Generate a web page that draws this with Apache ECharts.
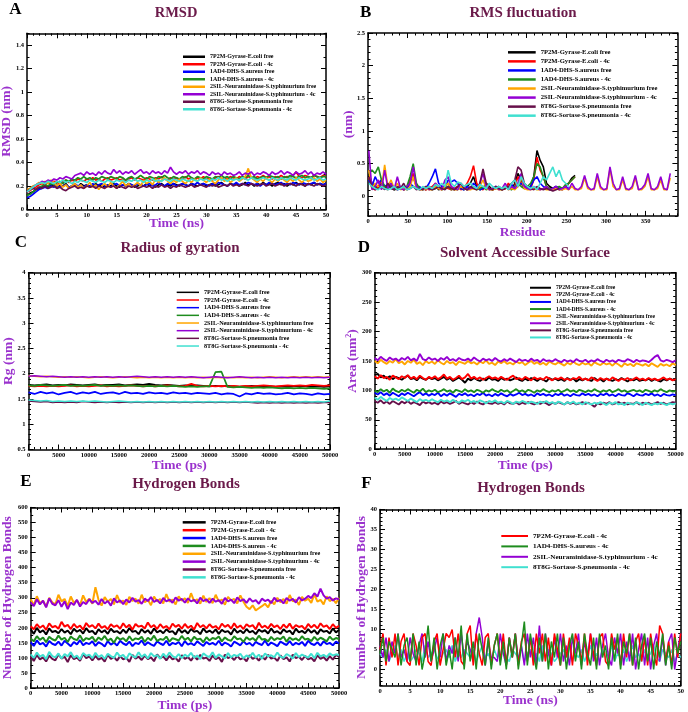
<!DOCTYPE html>
<html><head><meta charset="utf-8">
<script src="https://cdn.jsdelivr.net/npm/echarts@6/dist/echarts.min.js"></script>
<style>html,body{margin:0;padding:0;background:#fff}#c{width:688px;height:712px}</style>
</head><body><div id="c"></div>
<script>
// ---------- series names ----------
const seriesNames = ['7P2M-Gyrase-E.coli free','7P2M-Gyrase-E.coli - 4c','1AD4-DHS-S.aureus free','1AD4-DHS-S.aureus - 4c','2SIL-Neuraminidase-S.typhimurium free','2SIL-Neuraminidase-S.typhimurium - 4c','8T8G-Sortase-S.pneumonia free','8T8G-Sortase-S.pneumonia - 4c'];

// ---------- tick labels ----------
const nsTicks = [0,5,10,15,20,25,30,35,40,45,50];
const psTicks = [0,5000,10000,15000,20000,25000,30000,35000,40000,45000,50000];
const rmsdTicks = [0,0.2,0.4,0.6,0.8,1,1.2,1.4];
const residueTicks = [0,50,100,150,200,250,300,350];
const rmsfTicks = [0,0.5,1,1.5,2,2.5];
const rgTicks = [0.5,1,1.5,2,2.5,3,3.5,4];
const sasaTicks = [0,50,100,150,200,250,300];
const hbTicks = [0,50,100,150,200,250,300,350,400,450,500,550,600];
const hblTicks = [0,5,10,15,20,25,30,35,40];

// ---------- A: RMSD (nm), t = 0..50 ns every 0.5 ns ----------
const rmsdStepNs = 0.5;
const rmsdEcoliFree = [0.12,0.14,0.15,0.17,0.18,0.19,0.2,0.19,0.21,0.2,0.19,0.21,0.2,0.22,0.19,0.2,0.21,0.19,0.22,0.2,0.21,0.19,0.2,0.22,0.2,0.21,0.19,0.21,0.2,0.22,0.2,0.19,0.21,0.2,0.22,0.21,0.19,0.2,0.21,0.2,0.22,0.2,0.21,0.19,0.21,0.22,0.2,0.21,0.2,0.22,0.21,0.2,0.22,0.21,0.2,0.22,0.21,0.2,0.21,0.22,0.2,0.21,0.22,0.2,0.21,0.23,0.21,0.2,0.22,0.21,0.22,0.2,0.21,0.23,0.21,0.22,0.2,0.22,0.21,0.23,0.21,0.22,0.2,0.22,0.23,0.21,0.22,0.2,0.22,0.21,0.23,0.21,0.22,0.2,0.22,0.21,0.23,0.21,0.22,0.21,0.22];
const rmsdEcoli4c = [0.15,0.16,0.18,0.19,0.21,0.22,0.21,0.23,0.22,0.24,0.23,0.22,0.24,0.25,0.23,0.25,0.24,0.26,0.25,0.24,0.26,0.25,0.27,0.25,0.26,0.24,0.26,0.27,0.25,0.26,0.27,0.25,0.26,0.24,0.26,0.27,0.25,0.27,0.26,0.25,0.27,0.26,0.25,0.27,0.26,0.28,0.26,0.25,0.27,0.26,0.27,0.25,0.26,0.28,0.26,0.27,0.25,0.27,0.26,0.28,0.26,0.27,0.25,0.27,0.28,0.26,0.27,0.26,0.28,0.27,0.26,0.28,0.27,0.26,0.28,0.27,0.26,0.28,0.27,0.29,0.27,0.28,0.26,0.28,0.27,0.29,0.27,0.28,0.27,0.29,0.32,0.28,0.27,0.29,0.28,0.27,0.29,0.28,0.27,0.29,0.28];
const rmsdAureusFree = [0.1,0.11,0.13,0.15,0.17,0.18,0.19,0.18,0.2,0.19,0.21,0.19,0.2,0.21,0.19,0.2,0.22,0.2,0.21,0.19,0.21,0.2,0.22,0.2,0.21,0.22,0.2,0.21,0.19,0.21,0.22,0.2,0.21,0.2,0.22,0.21,0.2,0.22,0.21,0.2,0.21,0.22,0.2,0.21,0.23,0.21,0.2,0.22,0.21,0.22,0.2,0.21,0.22,0.21,0.2,0.22,0.21,0.23,0.21,0.22,0.21,0.2,0.22,0.21,0.23,0.22,0.21,0.2,0.22,0.21,0.23,0.21,0.22,0.21,0.23,0.22,0.21,0.22,0.2,0.22,0.21,0.23,0.22,0.21,0.22,0.23,0.21,0.22,0.21,0.23,0.22,0.21,0.23,0.22,0.21,0.22,0.23,0.21,0.22,0.21,0.22];
const rmsdAureus4c = [0.12,0.13,0.15,0.17,0.19,0.2,0.21,0.2,0.22,0.21,0.23,0.24,0.22,0.25,0.24,0.26,0.25,0.27,0.26,0.28,0.26,0.27,0.25,0.27,0.26,0.28,0.27,0.26,0.28,0.27,0.26,0.28,0.27,0.25,0.27,0.28,0.26,0.27,0.29,0.27,0.26,0.28,0.27,0.26,0.28,0.27,0.29,0.27,0.26,0.28,0.27,0.26,0.28,0.27,0.29,0.27,0.26,0.28,0.27,0.26,0.28,0.27,0.26,0.28,0.27,0.29,0.27,0.28,0.26,0.28,0.27,0.26,0.28,0.27,0.29,0.27,0.28,0.26,0.27,0.28,0.27,0.29,0.28,0.27,0.28,0.26,0.28,0.27,0.29,0.28,0.27,0.28,0.29,0.27,0.28,0.27,0.29,0.28,0.27,0.28,0.28];
const rmsdTyphiFree = [0.17,0.18,0.2,0.21,0.23,0.22,0.24,0.22,0.25,0.23,0.2,0.22,0.19,0.21,0.18,0.2,0.22,0.19,0.21,0.18,0.2,0.23,0.19,0.21,0.17,0.2,0.22,0.19,0.23,0.2,0.18,0.21,0.24,0.2,0.22,0.19,0.21,0.23,0.2,0.25,0.22,0.24,0.21,0.26,0.23,0.25,0.27,0.24,0.22,0.25,0.23,0.26,0.24,0.22,0.25,0.23,0.26,0.24,0.27,0.25,0.23,0.26,0.24,0.22,0.25,0.27,0.24,0.26,0.23,0.25,0.27,0.24,0.26,0.28,0.35,0.27,0.25,0.23,0.26,0.24,0.27,0.25,0.23,0.26,0.24,0.27,0.25,0.23,0.26,0.24,0.27,0.25,0.23,0.26,0.24,0.25,0.27,0.24,0.26,0.23,0.25];
const rmsdTyphi4c = [0.15,0.17,0.19,0.21,0.22,0.24,0.23,0.25,0.24,0.26,0.25,0.27,0.26,0.28,0.27,0.26,0.29,0.3,0.31,0.29,0.32,0.3,0.31,0.29,0.32,0.3,0.33,0.31,0.3,0.34,0.31,0.33,0.3,0.32,0.31,0.33,0.3,0.32,0.34,0.31,0.32,0.3,0.33,0.31,0.32,0.3,0.33,0.31,0.36,0.32,0.3,0.32,0.31,0.33,0.3,0.32,0.31,0.33,0.3,0.32,0.31,0.29,0.32,0.3,0.31,0.29,0.32,0.3,0.31,0.29,0.3,0.32,0.29,0.31,0.3,0.32,0.29,0.31,0.3,0.32,0.31,0.29,0.32,0.3,0.31,0.33,0.3,0.32,0.31,0.29,0.32,0.3,0.31,0.33,0.3,0.32,0.29,0.31,0.3,0.32,0.3];
const rmsdPneuFree = [0.16,0.17,0.18,0.17,0.19,0.18,0.2,0.18,0.19,0.2,0.18,0.19,0.17,0.16,0.18,0.19,0.2,0.18,0.19,0.18,0.2,0.19,0.2,0.18,0.2,0.19,0.18,0.2,0.19,0.2,0.18,0.2,0.19,0.18,0.2,0.19,0.2,0.18,0.19,0.2,0.19,0.2,0.18,0.2,0.19,0.21,0.19,0.2,0.18,0.2,0.19,0.21,0.2,0.19,0.2,0.21,0.19,0.2,0.21,0.2,0.19,0.21,0.2,0.21,0.19,0.2,0.21,0.2,0.22,0.2,0.21,0.2,0.22,0.21,0.2,0.22,0.21,0.2,0.21,0.22,0.2,0.21,0.22,0.2,0.21,0.22,0.2,0.21,0.22,0.21,0.2,0.22,0.21,0.2,0.22,0.21,0.2,0.22,0.21,0.2,0.21];
const rmsdPneu4c = [0.15,0.17,0.19,0.21,0.22,0.23,0.22,0.24,0.23,0.22,0.24,0.23,0.25,0.23,0.24,0.22,0.24,0.23,0.25,0.24,0.23,0.25,0.24,0.23,0.25,0.24,0.23,0.25,0.24,0.23,0.25,0.24,0.25,0.23,0.25,0.24,0.26,0.24,0.25,0.23,0.25,0.24,0.26,0.24,0.25,0.24,0.26,0.25,0.24,0.26,0.25,0.24,0.26,0.25,0.24,0.26,0.25,0.24,0.26,0.25,0.26,0.24,0.26,0.25,0.27,0.25,0.26,0.24,0.26,0.25,0.26,0.25,0.27,0.26,0.25,0.27,0.26,0.25,0.26,0.27,0.26,0.25,0.27,0.26,0.25,0.27,0.26,0.25,0.27,0.26,0.25,0.27,0.26,0.25,0.26,0.27,0.25,0.26,0.27,0.25,0.26];

// ---------- B: RMSF (nm), residue 1, 5, 9, ... ----------
const rmsfFirstResidue = 1, rmsfStepResidue = 4;
const rmsfEcoliFree = [0.35,0.2,0.15,0.12,0.2,0.15,0.12,0.18,0.1,0.12,0.15,0.1,0.12,0.2,0.3,0.15,0.1,0.12,0.1,0.15,0.12,0.18,0.1,0.12,0.15,0.2,0.12,0.1,0.15,0.12,0.1,0.15,0.2,0.3,0.15,0.1,0.12,0.2,0.15,0.1,0.12,0.15,0.1,0.12,0.15,0.1,0.2,0.35,0.25,0.15,0.12,0.15,0.3,0.7,0.55,0.45,0.2,0.15,0.12,0.15,0.1,0.12,0.15,0.2,0.28,0.32];
const rmsfEcoli4c = [0.3,0.12,0.1,0.15,0.25,0.12,0.1,0.2,0.12,0.1,0.15,0.1,0.12,0.25,0.35,0.15,0.1,0.12,0.1,0.12,0.15,0.2,0.12,0.1,0.15,0.12,0.1,0.12,0.15,0.1,0.12,0.2,0.3,0.47,0.2,0.12,0.1,0.15,0.12,0.1,0.12,0.15,0.1,0.12,0.2,0.12,0.15,0.3,0.2,0.12,0.15,0.12,0.25,0.6,0.4,0.3,0.15,0.12,0.1,0.15,0.12,0.1,0.15,0.2,0.25,0.3];
const rmsfAureusFree = [0.25,0.15,0.3,0.2,0.25,0.15,0.18,0.12,0.15,0.1,0.12,0.15,0.12,0.2,0.15,0.12,0.15,0.1,0.12,0.2,0.3,0.42,0.2,0.15,0.12,0.25,0.22,0.25,0.2,0.12,0.1,0.15,0.12,0.2,0.15,0.1,0.12,0.15,0.1,0.12,0.15,0.12,0.1,0.15,0.12,0.18,0.12,0.15,0.2,0.15,0.12,0.15,0.25,0.3,0.2,0.15,0.12,0.1,0.12,0.15,0.12,0.1,0.15,0.12];
const rmsfAureus4c = [0.35,0.4,0.35,0.45,0.25,0.15,0.12,0.2,0.1,0.12,0.15,0.1,0.15,0.3,0.5,0.2,0.12,0.1,0.15,0.12,0.1,0.12,0.15,0.1,0.12,0.15,0.1,0.12,0.1,0.15,0.12,0.1,0.12,0.15,0.1,0.12,0.15,0.1,0.12,0.1,0.15,0.12,0.1,0.15,0.12,0.1,0.15,0.2,0.15,0.12,0.15,0.2,0.3,0.5,0.45,0.3,0.15,0.12,0.1,0.12,0.15,0.12,0.18,0.2,0.25,0.3];
const rmsfTyphiFree = [0.4,0.12,0.2,0.15,0.12,0.48,0.15,0.25,0.12,0.2,0.1,0.12,0.1,0.15,0.3,0.12,0.1,0.1,0.12,0.1,0.1,0.15,0.12,0.1,0.15,0.2,0.12,0.1,0.1,0.15,0.12,0.1,0.1,0.12,0.1,0.15,0.25,0.12,0.1,0.1,0.12,0.1,0.1,0.15,0.1,0.12,0.1,0.15,0.3,0.12,0.1,0.1,0.12,0.1,0.1,0.12,0.1,0.1,0.1,0.12,0.1,0.1,0.12,0.1,0.15,0.1,0.1,0.12,0.28,0.12,0.1,0.1,0.3,0.12,0.1,0.1,0.42,0.15,0.1,0.1,0.25,0.1,0.1,0.12,0.28,0.1,0.1,0.15,0.3,0.1,0.1,0.12,0.25,0.1,0.1,0.28];
const rmsfTyphi4c = [0.7,0.1,0.15,0.25,0.1,0.4,0.12,0.2,0.1,0.3,0.12,0.1,0.15,0.2,0.45,0.15,0.1,0.12,0.15,0.1,0.12,0.2,0.15,0.1,0.25,0.3,0.15,0.12,0.1,0.2,0.15,0.1,0.12,0.15,0.1,0.2,0.35,0.15,0.1,0.12,0.15,0.1,0.12,0.2,0.1,0.15,0.12,0.2,0.35,0.15,0.12,0.1,0.15,0.12,0.1,0.12,0.15,0.1,0.12,0.15,0.1,0.12,0.15,0.1,0.2,0.12,0.1,0.15,0.32,0.15,0.1,0.12,0.35,0.15,0.1,0.12,0.45,0.2,0.1,0.12,0.3,0.12,0.1,0.15,0.32,0.1,0.12,0.18,0.35,0.12,0.1,0.15,0.3,0.12,0.1,0.35];
const rmsfPneuFree = [0.3,0.15,0.1,0.12,0.15,0.1,0.2,0.12,0.1,0.15,0.12,0.2,0.1,0.12,0.15,0.1,0.12,0.1,0.15,0.12,0.1,0.12,0.15,0.12,0.1,0.15,0.12,0.1,0.15,0.2,0.12,0.1,0.15,0.12,0.1,0.2,0.42,0.2,0.12,0.1,0.15,0.12,0.1,0.12,0.15,0.2,0.25,0.45,0.4,0.2,0.15,0.12,0.1,0.15,0.12,0.1,0.12,0.1,0.08,0.1,0.12];
const rmsfPneu4c = [0.2,0.15,0.12,0.1,0.15,0.12,0.1,0.12,0.15,0.1,0.12,0.15,0.1,0.12,0.15,0.12,0.1,0.15,0.12,0.15,0.12,0.18,0.15,0.2,0.15,0.4,0.2,0.15,0.22,0.2,0.15,0.18,0.2,0.15,0.12,0.18,0.15,0.12,0.2,0.15,0.12,0.15,0.12,0.15,0.1,0.2,0.25,0.15,0.3,0.2,0.15,0.12,0.15,0.1,0.2,0.3,0.25,0.35,0.45,0.3,0.4,0.25,0.2,0.15];

// ---------- C: Radius of gyration (nm), t = 0..50000 ps every 1000 ps ----------
const rgStepPs = 1000;
const rgEcoliFree = [1.78,1.77,1.78,1.79,1.77,1.78,1.77,1.79,1.78,1.77,1.78,1.79,1.77,1.78,1.78,1.79,1.77,1.78,1.79,1.78,1.8,1.78,1.77,1.78,1.77,1.76,1.77,1.76,1.77,1.76,1.75,1.76,1.75,1.76,1.75,1.74,1.75,1.76,1.75,1.74,1.75,1.74,1.75,1.74,1.75,1.76,1.75,1.74,1.75,1.74,1.75];
const rgEcoli4c = [1.76,1.75,1.76,1.75,1.76,1.75,1.76,1.77,1.75,1.76,1.75,1.76,1.77,1.75,1.76,1.75,1.76,1.77,1.76,1.75,1.76,1.75,1.76,1.77,1.76,1.75,1.76,1.8,1.76,1.75,1.76,1.75,1.76,1.75,1.76,1.75,1.76,1.75,1.76,1.77,1.76,1.75,1.76,1.77,1.76,1.77,1.76,1.78,1.77,1.76,1.77];
const rgAureusFree = [1.63,1.6,1.64,1.61,1.63,1.59,1.62,1.64,1.6,1.63,1.61,1.64,1.6,1.62,1.63,1.6,1.64,1.61,1.62,1.6,1.63,1.61,1.62,1.6,1.63,1.61,1.62,1.6,1.62,1.61,1.6,1.62,1.59,1.61,1.6,1.55,1.61,1.59,1.62,1.6,1.61,1.59,1.6,1.62,1.59,1.61,1.6,1.58,1.61,1.59,1.6];
const rgAureus4c = [1.77,1.76,1.78,1.77,1.76,1.77,1.78,1.76,1.77,1.76,1.77,1.78,1.76,1.77,1.76,1.77,1.76,1.77,1.76,1.75,1.76,1.75,1.76,1.75,1.76,1.75,1.74,1.75,1.74,1.75,1.75,2.03,2.04,1.74,1.73,1.74,1.73,1.72,1.73,1.72,1.73,1.72,1.71,1.72,1.71,1.72,1.71,1.72,1.71,1.7,1.71];
const rgTyphiFree = [1.96,1.95,1.94,1.95,1.94,1.93,1.94,1.93,1.94,1.93,1.92,1.93,1.94,1.93,1.92,1.93,1.94,1.93,1.92,1.93,1.92,1.93,1.92,1.93,1.92,1.93,1.92,1.93,1.92,1.93,1.92,1.93,1.92,1.93,1.92,1.93,1.92,1.93,1.92,1.93,1.94,1.93,1.92,1.93,1.94,1.93,1.94,1.93,1.94,1.93,1.94];
const rgTyphi4c = [1.95,1.96,1.95,1.94,1.95,1.94,1.93,1.94,1.93,1.94,1.93,1.94,1.93,1.94,1.93,1.94,1.93,1.94,1.95,1.94,1.93,1.94,1.93,1.94,1.93,1.94,1.93,1.94,1.93,1.92,1.93,1.94,1.93,1.92,1.93,1.94,1.93,1.92,1.93,1.92,1.93,1.92,1.93,1.92,1.93,1.92,1.93,1.92,1.93,1.92,1.93];
const rgPneuFree = [1.46,1.45,1.44,1.45,1.43,1.44,1.43,1.44,1.43,1.45,1.44,1.43,1.44,1.43,1.44,1.43,1.44,1.43,1.44,1.43,1.44,1.43,1.44,1.43,1.44,1.43,1.44,1.43,1.44,1.43,1.44,1.43,1.44,1.43,1.44,1.43,1.44,1.43,1.42,1.43,1.42,1.43,1.42,1.43,1.42,1.43,1.42,1.43,1.42,1.43,1.43];
const rgPneu4c = [1.48,1.47,1.46,1.47,1.45,1.46,1.45,1.46,1.45,1.46,1.45,1.46,1.45,1.44,1.45,1.46,1.45,1.44,1.45,1.44,1.45,1.44,1.45,1.44,1.45,1.44,1.45,1.44,1.45,1.44,1.45,1.44,1.45,1.44,1.45,1.44,1.45,1.44,1.45,1.44,1.45,1.44,1.45,1.44,1.45,1.44,1.45,1.44,1.45,1.44,1.46];

// ---------- D: SASA (nm^2), t = 0..50000 ps every 500 ps ----------
const sasaStepPs = 500;
const sasaEcoliFree = [126,128,122,125,120,124,119,123,121,118,122,125,119,121,117,123,120,118,122,119,121,117,120,123,118,121,116,119,122,118,113,120,117,121,118,116,120,117,122,118,119,116,121,118,120,117,119,122,118,116,120,117,121,119,116,120,118,115,121,118,120,117,119,116,121,118,120,115,119,117,120,118,116,121,117,119,115,120,118,116,119,117,121,118,115,119,117,120,116,118,117,120,116,119,117,115,119,117,120,118,117];
const sasaEcoli4c = [124,120,126,121,123,118,125,122,119,124,121,126,120,123,119,125,121,118,123,120,124,119,122,127,120,123,118,121,125,119,122,128,120,123,119,122,118,121,124,120,122,119,123,120,118,122,125,119,121,118,123,120,117,122,119,121,118,123,120,117,121,119,122,118,120,117,121,119,123,118,120,117,122,119,116,121,118,120,117,122,119,116,120,118,121,117,119,122,118,120,117,121,118,120,117,119,122,118,120,117,119];
const sasaAureusFree = [96,93,97,92,95,91,96,93,90,95,92,96,93,90,94,97,92,95,91,94,92,96,90,94,91,95,92,89,94,92,95,91,93,90,94,92,96,91,93,90,94,91,95,92,90,94,91,93,96,92,94,91,93,90,95,92,94,91,93,90,94,92,95,91,93,90,94,92,91,95,92,94,91,93,90,94,92,95,91,93,90,94,92,91,95,93,90,94,92,91,94,92,95,91,93,90,94,92,91,93,92];
const sasaAureus4c = [100,97,102,98,101,96,103,99,97,101,98,102,99,96,101,98,103,97,100,98,101,97,99,102,98,100,96,101,99,97,102,98,100,97,101,99,96,100,98,102,99,97,101,98,100,96,99,102,98,100,97,101,99,96,100,98,102,99,97,100,98,101,97,99,102,98,100,97,101,99,97,100,98,102,99,97,100,98,101,97,99,102,98,100,97,99,101,98,100,97,101,99,97,100,98,102,99,97,100,98,99];
const sasaTyphiFree = [150,146,152,148,145,150,147,153,146,149,144,150,147,152,145,148,143,150,146,149,145,151,147,144,150,146,148,143,149,147,145,150,146,148,144,149,146,151,145,147,143,149,146,150,145,147,144,149,146,148,143,147,150,145,148,144,147,143,149,146,144,148,145,142,147,144,149,145,143,147,144,146,142,148,145,143,147,144,146,142,147,144,140,146,143,145,141,146,144,142,145,141,146,143,140,145,142,144,141,146,143];
const sasaTyphi4c = [155,151,157,153,150,156,152,154,150,155,152,157,151,154,150,162,153,151,156,152,154,150,155,152,157,151,153,150,155,152,151,154,150,156,152,149,154,151,153,150,155,151,149,153,150,154,151,148,153,150,152,149,154,150,152,148,153,150,151,149,153,150,148,152,149,151,148,153,150,149,152,148,151,149,153,150,148,152,149,151,148,152,150,149,153,151,148,152,149,151,150,148,152,157,160,151,149,152,150,148,151];
const sasaPneuFree = [82,79,83,78,81,77,82,79,76,81,78,82,77,80,78,75,81,78,80,77,79,76,81,78,80,77,79,82,77,80,78,76,80,77,81,78,76,80,78,77,80,77,79,76,81,78,77,80,76,79,77,80,78,76,79,77,80,78,75,79,77,80,78,76,80,77,79,76,78,80,77,79,76,72,78,76,79,77,80,76,78,80,77,79,76,78,77,80,76,79,77,79,76,78,80,77,79,76,78,80,79];
const sasaPneu4c = [88,84,89,85,82,87,84,86,83,88,85,82,86,83,80,85,82,84,81,85,82,80,84,81,83,80,84,81,79,83,81,84,80,82,79,83,81,78,82,80,83,79,81,78,82,80,77,81,79,82,80,78,81,79,77,81,79,82,78,80,77,81,79,76,80,78,81,77,79,76,80,78,76,79,77,80,78,75,79,77,80,76,78,75,79,77,76,80,78,75,79,77,75,78,76,79,77,75,78,76,78];

// ---------- E: intra-protein H-bonds, t = 0..50000 ps every 500 ps ----------
const hbStepPs = 500;
const hbEcoliFree = [195,180,200,185,192,178,198,186,190,182,196,184,191,179,197,187,193,181,199,186,190,178,195,185,192,180,197,186,189,181,194,183,199,187,190,179,196,184,192,180,198,185,191,182,195,186,189,178,197,184,192,181,196,187,190,179,198,185,191,183,195,180,193,186,189,178,197,184,191,182,196,185,190,179,194,187,192,181,198,184,189,180,195,186,191,178,197,185,190,182,196,184,192,179,195,187,190,181,198,185,193];
const hbEcoli4c = [205,195,212,200,208,193,215,202,206,197,220,204,210,196,213,201,207,194,216,203,209,198,214,200,206,195,212,203,208,197,215,201,210,194,213,204,207,198,218,202,209,196,212,200,206,195,214,203,210,197,213,200,207,194,216,202,209,198,212,201,206,195,214,203,210,197,215,200,208,196,212,204,209,195,217,201,207,198,213,202,208,196,211,200,214,197,209,203,206,195,213,201,210,198,215,203,208,196,212,200,207];
const hbAureusFree = [152,140,158,145,150,138,156,147,143,154,141,157,148,139,153,145,159,142,150,146,155,140,152,147,138,156,144,151,141,157,148,143,154,139,150,146,158,142,152,145,140,155,148,143,157,141,150,146,153,139,156,144,149,142,155,147,140,153,145,150,143,157,141,151,146,138,154,148,142,156,145,150,140,153,147,143,158,141,151,146,139,154,148,143,156,142,150,145,153,140,157,147,143,152,141,155,146,150,142,154,148];
const hbAureus4c = [165,155,172,160,168,152,170,162,158,174,161,167,153,171,163,159,175,156,166,162,170,154,168,160,173,157,164,150,169,161,166,155,172,158,165,162,170,153,167,159,174,156,163,160,171,154,166,162,158,173,160,167,155,170,161,164,152,169,158,166,163,171,155,168,160,157,172,162,165,153,169,160,166,157,174,161,163,155,170,159,166,162,171,154,168,160,165,157,172,161,164,156,170,159,167,162,155,171,160,166,163];
const hbTyphiFree = [295,275,305,282,290,270,300,285,278,310,288,296,272,304,283,292,275,308,286,297,280,335,293,274,302,287,296,278,309,284,291,276,303,289,297,280,310,285,293,275,304,288,296,281,312,287,294,278,305,290,298,283,315,289,295,280,307,286,299,282,310,288,294,277,303,291,296,281,308,287,270,262,275,258,265,272,280,268,290,278,300,285,296,280,309,288,294,276,303,290,297,283,311,287,293,278,305,289,296,282,300];
const hbTyphi4c = [285,272,295,278,290,268,298,280,275,292,270,288,262,284,276,293,271,286,279,295,283,290,277,296,281,289,274,298,285,291,279,294,284,300,287,292,280,297,289,302,286,293,281,299,288,294,283,301,290,296,284,298,288,293,281,300,289,295,283,297,287,292,280,299,288,294,282,301,289,295,283,298,287,292,280,297,289,294,282,300,288,293,281,299,290,296,284,302,291,297,306,299,315,304,330,308,297,302,291,298,295];
const hbPneuFree = [105,90,110,95,102,88,108,97,92,112,98,104,86,109,96,101,90,113,99,105,92,107,94,100,88,111,97,103,91,106,95,101,87,110,98,104,93,108,96,102,89,112,99,105,92,107,95,100,88,109,97,103,91,106,94,110,98,101,90,108,96,102,87,111,99,104,93,107,95,100,89,109,97,103,91,106,94,110,98,101,90,108,96,102,88,111,99,104,93,107,95,100,89,109,97,103,91,106,94,110,104];
const hbPneu4c = [112,100,118,104,110,96,120,106,102,115,98,113,105,119,101,108,95,116,107,111,99,117,103,109,97,114,106,100,118,104,110,96,115,107,101,119,103,112,98,116,105,109,97,114,102,118,106,100,113,99,111,104,117,101,108,96,115,107,103,119,100,112,105,98,116,102,110,106,114,99,108,103,117,101,111,97,115,105,109,102,118,104,100,113,107,98,116,103,111,106,101,114,99,117,105,110,103,115,108,112,110];

// ---------- F: protein-ligand H-bonds, t = 0..50 ns every 0.5 ns ----------
const hblStepNs = 0.5;
const hblEcoli4c = [5,9,1,8,3,9,1,7,9,2,1,9,6,1,8,9,2,1,7,9,1,5,9,8,10,3,9,2,1,9,11,1,9,4,1,8,9,1,6,9,2,9,1,8,3,9,1,7,9,2,8,1,9,4,9,2,8,1,9,5,1,9,3,8,1,9,6,2,9,1,9,4,1,8,9,2,1,9,5,8,1,9,3,9,1,7,9,2,8,1,9,4,1,11,9,2,7,1,9,3,9];
const hblAureus4c = [4,8,2,7,5,3,9,1,6,8,2,9,1,7,0,4,11,2,8,0,6,9,1,5,0,8,3,11,0,9,2,7,0,9,5,1,8,0,6,9,1,7,0,8,3,9,0,6,12,1,9,4,0,8,2,9,0,7,3,9,1,8,0,6,9,2,7,0,9,4,1,8,0,9,3,6,0,8,2,9,0,7,4,9,1,8,0,6,9,2,8,0,7,3,9,1,6,0,8,4,7];
const hblTyphi4c = [6,3,8,2,7,4,9,3,5,2,8,4,2,6,9,3,7,2,5,8,3,9,2,6,4,8,2,9,3,7,5,2,9,13,8,1,7,3,3,2,9,4,1,8,3,9,2,6,1,9,3,8,1,11,2,9,4,1,8,3,9,2,6,1,8,4,9,1,7,3,9,2,8,1,6,9,3,1,8,4,9,1,7,2,9,0,5,9,1,8,0,6,9,2,8,1,7,9,0,5,9];
const hblPneu4c = [4,3,5,2,4,6,3,5,2,4,2,3,5,4,2,6,3,4,5,3,2,4,5,3,6,2,4,3,5,4,3,5,2,4,6,3,4,2,5,3,4,6,3,2,5,4,3,6,2,4,5,3,4,2,6,3,5,4,2,3,4,5,3,6,2,4,3,5,2,4,6,3,4,2,5,3,4,6,2,4,3,5,2,4,6,3,4,2,5,3,4,6,3,2,5,4,3,5,2,4,3];

// ---------- styling ----------
const FONT = '"Liberation Serif", "Times New Roman", "DejaVu Serif", serif';
const TITLE_COLOR = '#6b1a4a';
const NAME_COLOR = '#9a32cd';
const seriesColors = ['#000000','#ff0000','#0000ff','#1e8c1e','#ffa500','#9400d3','#67104a','#40e0d0'];

function stepTicks(min, max, step) {
  const a = [];
  for (let k = 0; min + k * step <= max + 1e-9; k++) a.push(+(min + k * step).toFixed(6));
  return a;
}
function toXY(values, start, step) { return values.map((v, i) => [start + i * step, v]); }

const grids = [], xAxes = [], yAxes = [], series = [], legends = [], graphics = [];

function axis(gi, pos, min, max, ticks, len, withLine, label, nameCfg) {
  const a = {
    gridIndex: gi, type: 'value', position: pos, min: min, max: max,
    axisLine: { show: withLine, onZero: false, lineStyle: { color: '#000', width: 1.5 } },
    axisTick: { show: true, inside: true, length: len, customValues: ticks, lineStyle: { color: '#000', width: 1 } },
    axisLabel: label ? Object.assign({ show: true, customValues: ticks, fontFamily: FONT, fontWeight: 'bold', fontSize: 6.5, color: '#000', formatter: function (v) { return String(v); } }, label) : { show: false },
    splitLine: { show: false }, minorTick: { show: false }, minorSplitLine: { show: false },
    axisPointer: { show: false }, silent: true, nameMoveOverlap: false
  };
  if (nameCfg) Object.assign(a, nameCfg);
  return a;
}

function addPanel(p) {
  const g = grids.length;
  grids.push({ left: p.rect[0], top: p.rect[1], width: p.rect[2], height: p.rect[3], show: false, containLabel: false, outerBoundsMode: 'none' });
  const xi = xAxes.length, yi = yAxes.length;
  const xMinor = stepTicks(p.x[0], p.x[1], p.x[3]);
  const yMinor = stepTicks(p.y[0], p.y[1], p.y[3]);
  const nameStyle = { fontFamily: FONT, fontWeight: 'bold', fontSize: p.nameSize || 13.5, color: NAME_COLOR, rich: p.rich };
  xAxes.push(axis(g, 'bottom', p.x[0], p.x[1], p.x[2], 5, true, { margin: 2 },
    { name: p.xName, nameLocation: 'middle', nameGap: p.xGap, nameTextStyle: nameStyle }));
  xAxes.push(axis(g, 'bottom', p.x[0], p.x[1], xMinor, 2.5, false, null));
  xAxes.push(axis(g, 'top', p.x[0], p.x[1], p.x[2], 5, true, null));
  xAxes.push(axis(g, 'top', p.x[0], p.x[1], xMinor, 2.5, false, null));
  yAxes.push(axis(g, 'left', p.y[0], p.y[1], p.y[2], 5, true, { margin: 3 },
    { name: p.yName, nameLocation: 'middle', nameGap: p.yGap, nameTextStyle: nameStyle }));
  yAxes.push(axis(g, 'left', p.y[0], p.y[1], yMinor, 2.5, false, null));
  yAxes.push(axis(g, 'right', p.y[0], p.y[1], p.y[2], 5, true, null));
  yAxes.push(axis(g, 'right', p.y[0], p.y[1], yMinor, 2.5, false, null));
  p.series.forEach(s => {
    series.push({
      type: 'line', name: s.name, xAxisIndex: xi, yAxisIndex: yi, data: s.data,
      showSymbol: false, symbol: 'none', color: s.color,
      lineStyle: { width: p.lw, color: s.color }, itemStyle: { color: s.color },
      animation: false, silent: true, emphasis: { disabled: true }
    });
  });
  const L = p.legend;
  legends.push({
    data: L.names, orient: 'vertical', left: L.left, top: L.top, padding: 0,
    itemWidth: L.w, itemHeight: L.h, itemGap: 0, icon: 'rect', selectedMode: false,
    itemStyle: { borderWidth: 0 },
    textStyle: { fontFamily: FONT, fontWeight: 'bold', fontSize: L.fs, lineHeight: L.gap, color: '#000' }
  });
  graphics.push({ type: 'text', x: p.letter[0], y: p.letter[1], silent: true,
    style: { text: p.letter[2], fontFamily: FONT, fontWeight: 'bold', fontSize: 17, fill: '#000', textAlign: 'center', textVerticalAlign: 'middle', align: 'center', verticalAlign: 'middle' } });
  graphics.push({ type: 'text', x: p.title[0], y: p.title[1], silent: true,
    style: { text: p.title[2], fontFamily: FONT, fontWeight: 'bold', fontSize: p.title[3] || 15, fill: TITLE_COLOR, textAlign: 'center', textVerticalAlign: 'middle', align: 'center', verticalAlign: 'middle' } });
}

function eight(arrs, start, step) {
  return arrs.map((a, i) => ({ name: seriesNames[i], color: seriesColors[i], data: toXY(a, start, step) }));
}

// A
addPanel({
  rect: [27, 33.3, 299, 176.2], x: [0, 50, nsTicks, 1], y: [0, 1.5, rmsdTicks, 0.1],
  xName: 'Time (ns)', xGap: 7, yName: 'RMSD (nm)', yGap: 13.5, lw: 1.7,
  series: eight([rmsdEcoliFree, rmsdEcoli4c, rmsdAureusFree, rmsdAureus4c, rmsdTyphiFree, rmsdTyphi4c, rmsdPneuFree, rmsdPneu4c], 0, rmsdStepNs),
  legend: { names: seriesNames, left: 183, top: 53, w: 22, h: 2.5, gap: 7.5, fs: 6 },
  letter: [15.5, 10, 'A'], title: [176, 13.3, 'RMSD', 14.5]
});
// B
addPanel({
  rect: [368, 33, 309.4, 182.9], x: [0, 390, residueTicks, 10], y: [-0.3, 2.5, rmsfTicks, 0.1],
  xName: 'Residue', xGap: 9.4, yName: '(nm)', yGap: 12.25, lw: 1.6,
  series: eight([rmsfEcoliFree, rmsfEcoli4c, rmsfAureusFree, rmsfAureus4c, rmsfTyphiFree, rmsfTyphi4c, rmsfPneuFree, rmsfPneu4c], rmsfFirstResidue, rmsfStepResidue),
  legend: { names: seriesNames, left: 508, top: 47.8, w: 27.7, h: 2.5, gap: 9.05, fs: 6.6 },
  letter: [365.6, 12.8, 'B'], title: [523, 13, 'RMS fluctuation']
});
// C
addPanel({
  rect: [28.5, 272.7, 301.5, 176.8], x: [0, 50000, psTicks, 1000], y: [0.5, 4, rgTicks, 0.1],
  xName: 'Time (ps)', xGap: 8.75, yName: 'Rg (nm)', yGap: 12.5, lw: 1.7,
  series: eight([rgEcoliFree, rgEcoli4c, rgAureusFree, rgAureus4c, rgTyphiFree, rgTyphi4c, rgPneuFree, rgPneu4c], 0, rgStepPs),
  legend: { names: seriesNames, left: 176.7, top: 288.5, w: 22.3, h: 1.5, gap: 7.67, fs: 6.2 },
  letter: [20.8, 243, 'C'], title: [180, 248.5, 'Radius of gyration']
});
// D
addPanel({
  rect: [374.7, 272.7, 301, 176.5], x: [0, 50000, psTicks, 1000], y: [0, 300, sasaTicks, 10],
  xName: 'Time (ps)', xGap: 9.25, yName: 'Area (nm{s|2})', yGap: 14, lw: 1.9,
  rich: { s: { fontFamily: FONT, fontWeight: 'bold', fontSize: 8, color: NAME_COLOR, verticalAlign: 'top', padding: [0, 0, 8, 0] } },
  series: eight([sasaEcoliFree, sasaEcoli4c, sasaAureusFree, sasaAureus4c, sasaTyphiFree, sasaTyphi4c, sasaPneuFree, sasaPneu4c], 0, sasaStepPs),
  legend: { names: seriesNames, left: 530, top: 284.2, w: 21, h: 2, gap: 7.1, fs: 5.6 },
  letter: [364, 248, 'D'], title: [525, 253, 'Solvent Accessible Surface']
});
// E
addPanel({
  rect: [30.7, 507.5, 308.3, 180.5], x: [0, 50000, psTicks, 1000], y: [0, 600, hbTicks, 25],
  xName: 'Time (ps)', xGap: 10.25, yName: 'Number of Hydrogen Bonds', yGap: 16, lw: 2,
  series: eight([hbEcoliFree, hbEcoli4c, hbAureusFree, hbAureus4c, hbTyphiFree, hbTyphi4c, hbPneuFree, hbPneu4c], 0, hbStepPs),
  legend: { names: seriesNames, left: 182.7, top: 518.4, w: 23, h: 2.5, gap: 7.86, fs: 6.2 },
  letter: [26, 482, 'E'], title: [186, 484, 'Hydrogen Bonds']
});
// F (draw order: cyan, violet, red, green; legend order red, green, violet, cyan)
addPanel({
  rect: [380, 509.5, 300.7, 176], x: [0, 50, nsTicks, 1], y: [-4, 40, hblTicks, 1],
  xName: 'Time (ns)', xGap: 7.75, yName: 'Number of Hydrogen Bonds', yGap: 11, lw: 1.5,
  series: [
    { name: seriesNames[7], color: seriesColors[7], data: toXY(hblPneu4c, 0, hblStepNs) },
    { name: seriesNames[5], color: seriesColors[5], data: toXY(hblTyphi4c, 0, hblStepNs) },
    { name: seriesNames[1], color: seriesColors[1], data: toXY(hblEcoli4c, 0, hblStepNs) },
    { name: seriesNames[3], color: seriesColors[3], data: toXY(hblAureus4c, 0, hblStepNs) }
  ],
  legend: { names: [seriesNames[1], seriesNames[3], seriesNames[5], seriesNames[7]], left: 501.3, top: 530.8, w: 26.7, h: 2, gap: 10.4, fs: 7.1 },
  letter: [366.5, 484, 'F'], title: [531, 488, 'Hydrogen Bonds']
});

const chart = echarts.init(document.getElementById('c'), null, { renderer: 'canvas', width: 688, height: 712 });
chart.setOption({
  backgroundColor: '#ffffff',
  animation: false,
  textStyle: { fontFamily: FONT },
  grid: grids, xAxis: xAxes, yAxis: yAxes, series: series, legend: legends,
  graphic: graphics, tooltip: { show: false }
});
</script></body></html>
